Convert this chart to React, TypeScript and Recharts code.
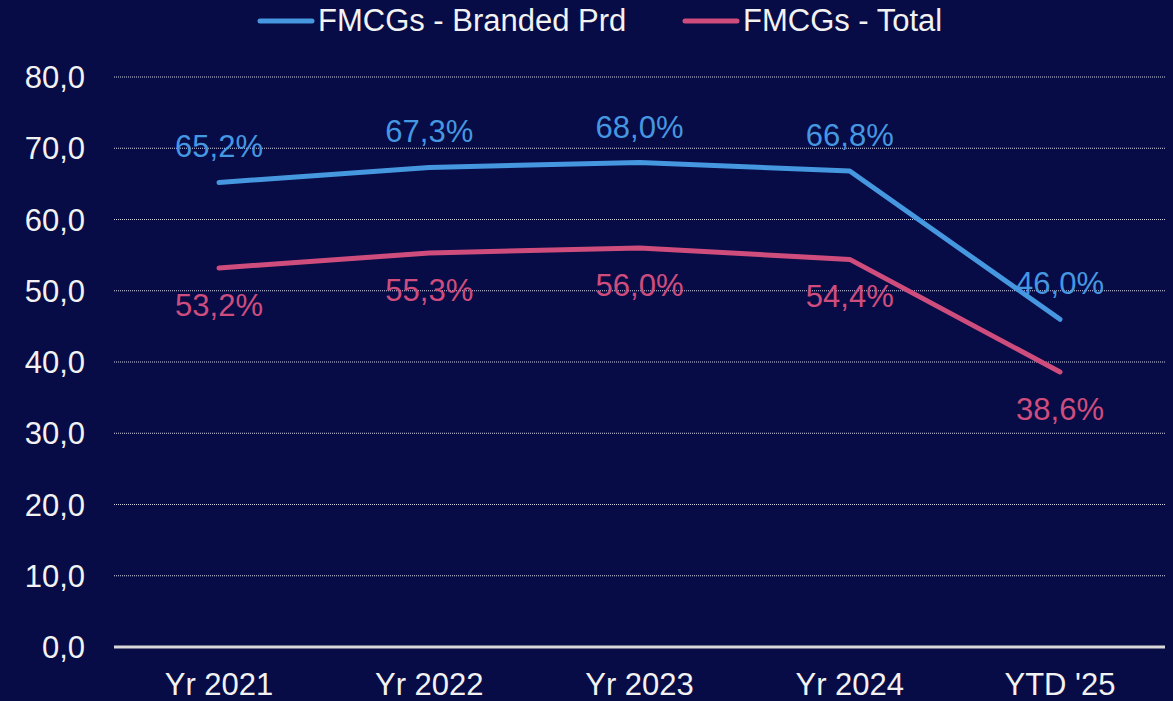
import React from 'react';
import { LineChart, Line, XAxis, YAxis, CartesianGrid, Legend, LabelList } from 'recharts';

const categories = ["Yr 2021", "Yr 2022", "Yr 2023", "Yr 2024", "YTD '25"];
const brandedValues = [65.2, 67.3, 68.0, 66.8, 46.0];
const totalValues = [53.2, 55.3, 56.0, 54.4, 38.6];
const yTicks = [0, 10, 20, 30, 40, 50, 60, 70, 80];
const seriesNames = ["FMCGs - Branded Prd", "FMCGs - Total"];

const BLUE = '#4597E0';
const PINK = '#CF4D7D';
const BG = '#070B46';
const TEXT = '#F2F2F2';
const FONT = '"Liberation Sans", Arial, sans-serif';
const FS = 31;

const data = categories.map((c, i) => ({ cat: c, branded: brandedValues[i], total: totalValues[i] }));

const fmt = (v: number) => v.toFixed(1).replace('.', ',');

const makeLabel = (color: string, dy: number) => (props: any) => {
  const { x, y, value } = props;
  return (
    <text x={x} y={y + dy} textAnchor="middle" fill={color} fontSize={FS} fontFamily={FONT}>
      {fmt(value) + '%'}
    </text>
  );
};

const LegendContent = () => (
  <div style={{ height: 77, position: 'relative', width: 1173, fontFamily: FONT, fontSize: FS, color: TEXT }}>
    {[{ name: seriesNames[0], color: BLUE, left: 257 }, { name: seriesNames[1], color: PINK, left: 682 }].map((it) => (
      <div key={it.name} style={{ position: 'absolute', left: it.left, top: 3, display: 'flex', alignItems: 'center', whiteSpace: 'nowrap', lineHeight: '36px' }}>
        <svg width={58} height={10} style={{ marginRight: 3 }}>
          <line x1={3} y1={5} x2={55} y2={5} stroke={it.color} strokeWidth={5} strokeLinecap="round" />
        </svg>
        <span>{it.name}</span>
      </div>
    ))}
  </div>
);

export default function App() {
  return (
    <div style={{ position: 'absolute', left: 0, top: 0, width: 1173, height: 701, background: BG }}>
      <LineChart width={1173} height={701} data={data} margin={{ top: 0, right: 8, bottom: 0, left: 0 }}>
        <CartesianGrid vertical={false} stroke="#D0D2E0" strokeDasharray="1 1" strokeWidth={1} />
        <XAxis
          dataKey="cat"
          height={54}
          padding={{ left: 105, right: 105 }}
          tickLine={false}
          tickSize={0}
          tickMargin={26}
          axisLine={{ stroke: '#D9D9D9', strokeWidth: 3 }}
          tick={{ fill: TEXT, fontSize: FS, fontFamily: FONT }}
          interval={0}
        />
        <YAxis
          width={114}
          domain={[0, 80]}
          ticks={yTicks}
          tickFormatter={fmt}
          axisLine={false}
          tickLine={false}
          tickSize={0}
          tickMargin={29}
          tick={{ fill: TEXT, fontSize: FS, fontFamily: FONT }}
        />
        <Legend verticalAlign="top" align="left" content={<LegendContent />} wrapperStyle={{ left: 0, top: 0, width: 1173, height: 77 }} />
        <Line
          type="linear"
          dataKey="branded"
          name={seriesNames[0]}
          stroke={BLUE}
          strokeWidth={5}
          strokeLinecap="round"
          strokeLinejoin="round"
          dot={false}
          activeDot={false}
          isAnimationActive={false}
        >
          <LabelList dataKey="branded" content={makeLabel(BLUE, -25)} />
        </Line>
        <Line
          type="linear"
          dataKey="total"
          name={seriesNames[1]}
          stroke={PINK}
          strokeWidth={5}
          strokeLinecap="round"
          strokeLinejoin="round"
          dot={false}
          activeDot={false}
          isAnimationActive={false}
        >
          <LabelList dataKey="total" content={makeLabel(PINK, 48)} />
        </Line>
      </LineChart>
    </div>
  );
}
